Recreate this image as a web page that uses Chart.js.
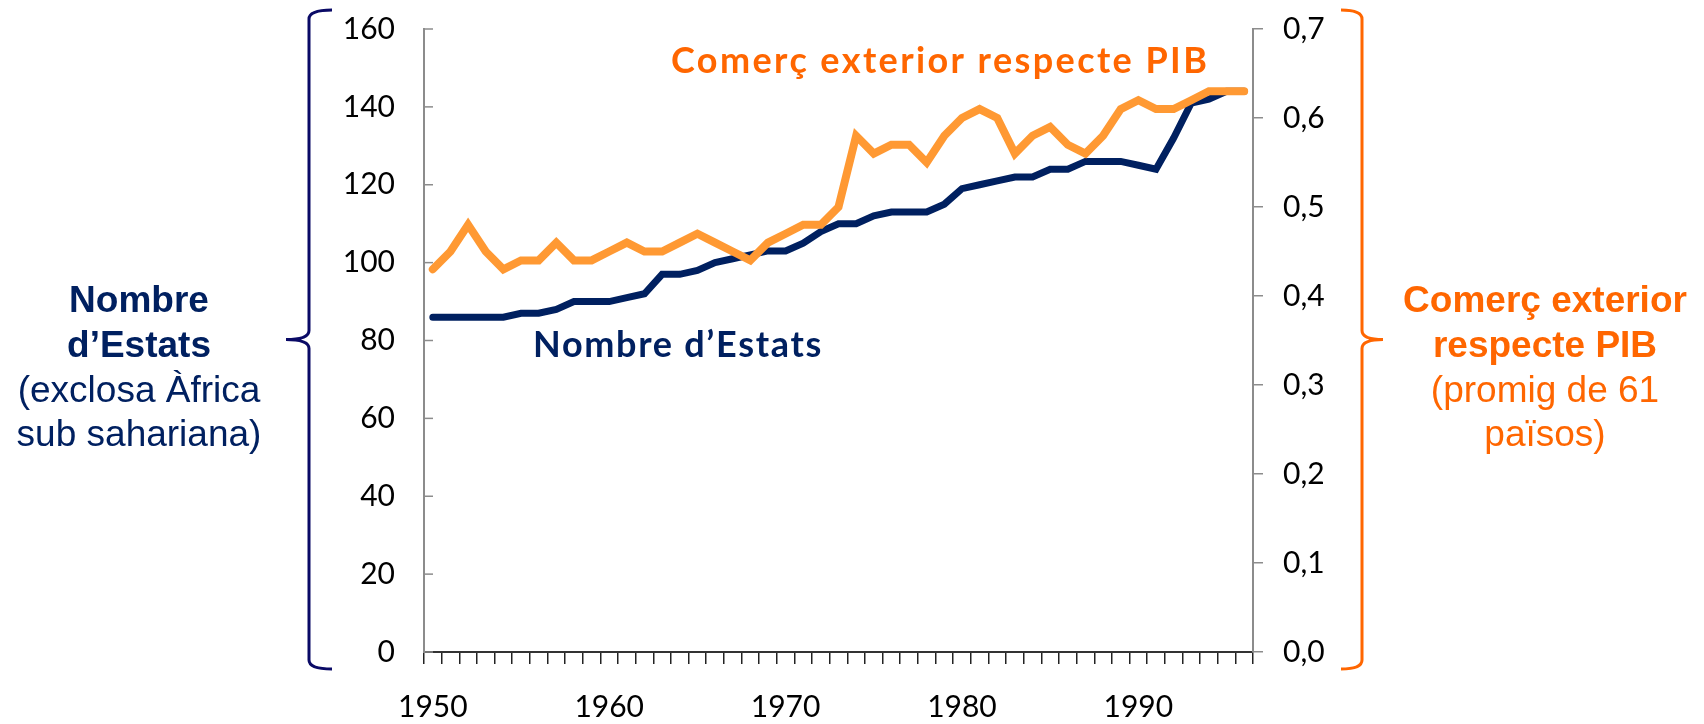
<!DOCTYPE html>
<html>
<head>
<meta charset="utf-8">
<title>Nombre d'Estats i comerç exterior</title>
<script src="https://cdn.jsdelivr.net/npm/chart.js@4.4.1/dist/chart.umd.min.js"></script>
<style>
  html, body { margin: 0; padding: 0; background: #fff; }
  #wrap { width: 1704px; height: 724px; }
</style>
</head>
<body>
<div id="wrap"><canvas id="estats" width="1704" height="724"></canvas></div>
<script>
// Dades llegides del gràfic (1950-1996)
const anys = [
  1950, 1951, 1952, 1953, 1954, 1955, 1956, 1957, 1958, 1959,
  1960, 1961, 1962, 1963, 1964, 1965, 1966, 1967, 1968, 1969,
  1970, 1971, 1972, 1973, 1974, 1975, 1976, 1977, 1978, 1979,
  1980, 1981, 1982, 1983, 1984, 1985, 1986, 1987, 1988, 1989,
  1990, 1991, 1992, 1993, 1994, 1995, 1996
];
const nombreEstats = [
  86, 86, 86, 86, 86, 87, 87, 88, 90, 90,
  90, 91, 92, 97, 97, 98, 100, 101, 102, 103,
  103, 105, 108, 110, 110, 112, 113, 113, 113, 115,
  119, 120, 121, 122, 122, 124, 124, 126, 126, 126,
  125, 124, 132, 141, 142, 144, 144
];
const comercPIB = [
  0.43, 0.45, 0.48, 0.45, 0.43, 0.44, 0.44, 0.46, 0.44, 0.44,
  0.45, 0.46, 0.45, 0.45, 0.46, 0.47, 0.46, 0.45, 0.44, 0.46,
  0.47, 0.48, 0.48, 0.50, 0.58, 0.56, 0.57, 0.57, 0.55, 0.58,
  0.60, 0.61, 0.60, 0.56, 0.58, 0.59, 0.57, 0.56, 0.58, 0.61,
  0.62, 0.61, 0.61, 0.62, 0.63, 0.63, 0.63
];
const etiquetesAnys = ['1950', '1960', '1970', '1980', '1990'];

const NAVY = '#002060';
const TARONJA = '#ff6600';

// claus, textos laterals i ticks interiors de l'eix esquerre
function clau(ctx, xPunta, xEix, xExtrem, yTop, yMig, yBaix) {
  const r = 9;
  ctx.beginPath();
  ctx.moveTo(xExtrem, yTop);
  ctx.quadraticCurveTo(xEix, yTop, xEix, yTop + r);
  ctx.lineTo(xEix, yMig - r);
  ctx.quadraticCurveTo(xEix, yMig, xPunta, yMig);
  ctx.quadraticCurveTo(xEix, yMig, xEix, yMig + r);
  ctx.lineTo(xEix, yBaix - r);
  ctx.quadraticCurveTo(xEix, yBaix, xExtrem, yBaix);
  ctx.stroke();
}

const decoracio = {
  id: 'decoracio',
  beforeDatasetsDraw(chart) {
    const { ctx, chartArea, scales } = chart;
    ctx.save();
    ctx.strokeStyle = '#8c8c8c';
    ctx.lineWidth = 1.5;
    scales.y.ticks.forEach((t) => {
      const y = scales.y.getPixelForValue(t.value);
      ctx.beginPath();
      ctx.moveTo(chartArea.left, y);
      ctx.lineTo(chartArea.left + 9, y);
      ctx.stroke();
    });
    ctx.restore();
  },
  afterDraw(chart) {
    const { ctx, chartArea } = chart;
    const yTop = chartArea.top - 19;
    const yBaix = chartArea.bottom + 17;
    const yMig = (yTop + yBaix) / 2;
    ctx.save();
    ctx.lineWidth = 3;
    ctx.strokeStyle = '#0a0a66';
    clau(ctx, 286, 309, 332, yTop, yMig, yBaix);
    ctx.strokeStyle = TARONJA;
    clau(ctx, 1383, 1362, 1341, yTop, yMig, yBaix);

    ctx.textAlign = 'center';
    ctx.textBaseline = 'alphabetic';
    const esquerra = [
      ['Nombre', 'bold'], ["d’Estats", 'bold'],
      ['(exclosa Àfrica', 'normal'], ['sub sahariana)', 'normal']
    ];
    const dreta = [
      ['Comerç exterior', 'bold'], ['respecte PIB', 'bold'],
      ['(promig de 61', 'normal'], ['països)', 'normal']
    ];
    const bases = [312, 357, 402, 446];
    esquerra.forEach(([t, w], i) => {
      ctx.font = w + ' 37px "Liberation Sans", Arial, sans-serif';
      ctx.fillStyle = NAVY;
      ctx.fillText(t, 139, bases[i]);
    });
    dreta.forEach(([t, w], i) => {
      ctx.font = w + ' 37px "Liberation Sans", Arial, sans-serif';
      ctx.fillStyle = TARONJA;
      ctx.fillText(t, 1545, bases[i]);
    });

    // etiquetes de les sèries dins del gràfic
    ctx.textAlign = 'left';
    ctx.font = 'bold 36px Lato, sans-serif';
    ctx.letterSpacing = '2.4px';
    ctx.fillStyle = TARONJA;
    ctx.fillText('Comerç exterior respecte PIB', 671, 73);
    ctx.letterSpacing = '1.7px';
    ctx.fillStyle = NAVY;
    ctx.fillText('Nombre d’Estats', 533, 357);
    ctx.restore();
  }
};

function init() {
  const ctx = document.getElementById('estats').getContext('2d');
  new Chart(ctx, {
    type: 'line',
    plugins: [decoracio],
    data: {
      labels: anys,
      datasets: [
        {
          label: 'Comerç exterior respecte PIB',
          data: comercPIB,
          yAxisID: 'y1',
          borderColor: '#ff9933',
          borderWidth: 8,
          borderCapStyle: 'round',
          pointRadius: 0,
          tension: 0,
        },
        {
          label: "Nombre d'Estats",
          data: nombreEstats,
          yAxisID: 'y',
          borderColor: NAVY,
          borderWidth: 7,
          borderCapStyle: 'round',
          pointRadius: 0,
          tension: 0,
        },
      ],
    },
    options: {
      responsive: false,
      animation: false,
      devicePixelRatio: 1,
      layout: { padding: { top: 29, left: 0, right: 0, bottom: 0 } },
      plugins: {
        legend: { display: false },
        tooltip: { enabled: false },
      },
      scales: {
        x: {
          type: 'category',
          offset: true,
          afterFit(s) { s.height = 72; },
          border: { display: true, color: '#333333', width: 2 },
          grid: {
            display: true,
            offset: true,
            drawOnChartArea: false,
            drawTicks: true,
            tickLength: 12,
            color: '#222222',
            lineWidth: 1.5,
          },
          ticks: {
            autoSkip: false,
            maxRotation: 0,
            padding: 25,
            color: '#000',
            font: { family: 'Lato', size: 30 },
            callback: function (value) {
              const l = String(this.getLabelForValue(value));
              return etiquetesAnys.includes(l) ? l : '';
            },
          },
        },
        y: {
          position: 'left',
          min: 0,
          max: 160,
          afterFit(s) { s.width = 424; },
          border: { display: true, color: '#8c8c8c', width: 2 },
          // marques exteriors invisibles: només separen les etiquetes de l'eix
          grid: {
            display: true,
            drawOnChartArea: false,
            drawTicks: true,
            tickLength: 18,
            color: 'rgba(0,0,0,0)',
          },
          ticks: {
            stepSize: 20,
            padding: 11,
            color: '#000',
            font: { family: 'Lato', size: 30, lineHeight: 0.6 },
          },
        },
        y1: {
          position: 'right',
          min: 0,
          max: 0.7,
          afterFit(s) { s.width = 451; },
          border: { display: true, color: '#8c8c8c', width: 2 },
          grid: {
            display: true,
            drawOnChartArea: false,
            drawTicks: true,
            tickLength: 10,
            color: '#8c8c8c',
            lineWidth: 1.5,
          },
          ticks: {
            stepSize: 0.1,
            padding: 20,
            color: '#000',
            font: { family: 'Lato', size: 30, lineHeight: 0.6 },
            callback: (v) => v.toFixed(1).replace('.', ','),
          },
        },
      },
    },
  });
}

window.onload = init;
</script>
</body>
</html>
